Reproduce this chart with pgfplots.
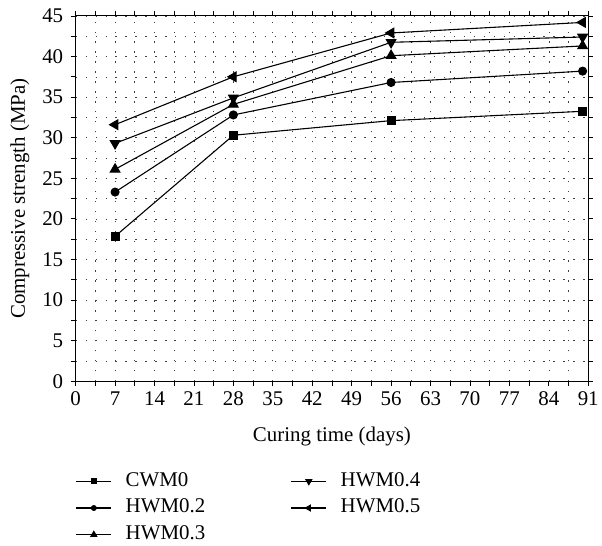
\documentclass[border=0pt]{standalone}
\usepackage{fontspec}
\setmainfont{Liberation Serif}
\usepackage{pgfplots}
\pgfplotsset{compat=1.18}
\begin{document}
\begin{tikzpicture}
\begin{axis}[
  scale only axis,
  width=515pt, height=367pt,
  xmin=0, xmax=91, ymin=0, ymax=45,
  xtick={0,7,...,91},
  ytick={0,5,...,45},
  minor x tick num=1,
  minor y tick num=1,
  tick align=outside,
  major tick length=5pt,
  minor tick length=5pt,
  tick style={black, line width=0.8pt},
  axis line style={black, line width=0.9pt},
  grid=both,
  major grid style={black!75, line width=0.6pt, dash pattern=on 1.3pt off 8.7pt},
  minor grid style={black!75, line width=0.6pt, dash pattern=on 1.3pt off 8.7pt},
  /pgf/number format/assume math mode=true,
  font=\fontsize{21}{25}\selectfont,
  ticklabel style={font=\fontsize{21}{25}\selectfont},
  xticklabel style={yshift=-2pt},
  yticklabel style={xshift=-4pt},
  xlabel={Curing time (days)},
  ylabel={Compressive strength (MPa)},
  label style={font=\fontsize{21}{25}\selectfont},
  xlabel style={at={(axis description cs:0.5,-0.1662)}, anchor=base},
  ylabel style={at={(axis description cs:-0.1087,0.5)}, anchor=center, rotate=0},
  every axis plot/.append style={black, line width=1.1pt},
  legend columns=2,
  legend style={at={(axis description cs:0,-0.2436)}, anchor=north west, draw=none, fill=none, inner sep=0pt,
    font=\fontsize{21}{25}\selectfont, cells={anchor=west},
    nodes={text height=14pt, text depth=4pt},
    /tikz/every odd column/.append style={column sep=12pt},
    /tikz/every even column/.append style={column sep=84pt},
    row sep=4.8pt},
  legend image code/.code={\draw[mark repeat=2,mark phase=2,#1, every mark/.append style={scale=0.6}] plot coordinates {(0pt,0pt) (17.5pt,0pt) (35pt,0pt)};},
]
\addplot[mark=square*, mark size=4pt, mark options={solid, fill=black}] coordinates {(7,17.85) (28,30.3) (56,32.1) (90,33.25)};
\addlegendentry{CWM0}
\addplot[mark=triangle*, mark size=5.5pt, mark options={solid, fill=black, rotate=180}] coordinates {(7,29.3) (28,34.9) (56,41.75) (90,42.4)};
\addlegendentry{HWM0.4}
\addplot[mark=*, mark size=4pt, mark options={solid, fill=black}] coordinates {(7,23.3) (28,32.8) (56,36.8) (90,38.2)};
\addlegendentry{HWM0.2}
\addplot[mark=triangle*, mark size=5.5pt, mark options={solid, fill=black, rotate=90}] coordinates {(7,31.6) (28,37.5) (56,42.9) (90,44.2)};
\addlegendentry{HWM0.5}
\addplot[mark=triangle*, mark size=5.5pt, mark options={solid, fill=black}] coordinates {(7,26.1) (28,34.1) (56,40.1) (90,41.3)};
\addlegendentry{HWM0.3}
\end{axis}
\path ([xshift=-76pt,yshift=-163pt]current axis.south west) rectangle ([xshift=11pt,yshift=16pt]current axis.north east);
\end{tikzpicture}
\end{document}
